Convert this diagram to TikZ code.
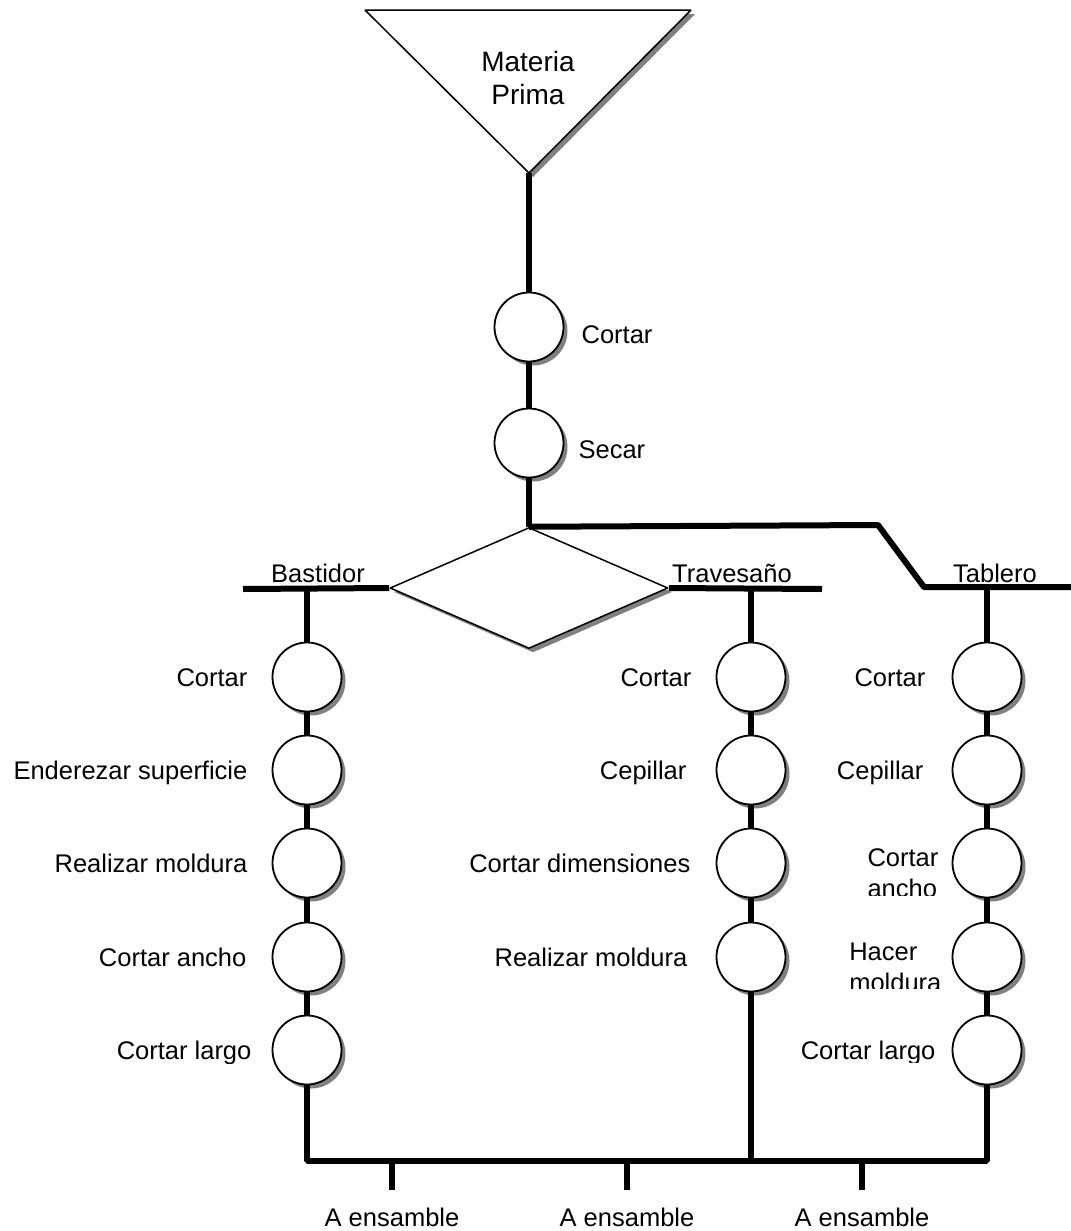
\documentclass[tikz,border=0pt]{standalone}
\usepackage{fontspec}
\setmainfont{Liberation Sans}
\usepackage{tikz}
\usetikzlibrary{shapes.geometric,shadows,positioning}

\tikzset{
  flow/.style={line width=6bp},
  sombra/.style={drop shadow={shadow xshift=4bp,shadow yshift=-4bp,fill=black!50,opacity=1}},
  oper/.style={circle,draw,line width=1.8bp,fill=white,minimum size=69bp,inner sep=0pt,sombra},
  etiq/.style={inner sep=0pt,text height=19bp,text depth=0bp,font=\fontsize{25.5bp}{29bp}\selectfont},
  etiqdos/.style={inner sep=0pt,align=left,font=\fontsize{25.5bp}{31bp}\selectfont},
}

\begin{document}
\begin{tikzpicture}[x=1bp,y=-1bp,line join=bevel]
\useasboundingbox (0,0) rectangle (1071,1231);
% materia prima
\draw [line width=1.5bp,fill=white,sombra] (365,10) -- (691,10) -- (529,173) -- cycle;
\coordinate (mp) at (529,173);
\node [inner sep=0pt,align=center,font=\fontsize{28bp}{33bp}\selectfont] (titulo) at (528,78) {Materia\\Prima};
\node [oper] (cortar) at (529,327) {};
\node [etiq,right=17bp of cortar,yshift=-7bp] (lcortar) {Cortar};
\node [oper] (secar) at (529,443) {};
\node [etiq,right=14bp of secar,yshift=-6bp] (lsecar) {Secar};
\node [diamond,draw,fill=white,line width=1.5bp,minimum width=278bp,minimum height=121bp,inner sep=0pt,sombra] (dec) at (529,588) {};
 \draw [flow] (mp) -- (cortar.north);
 \draw [flow] (cortar.south) -- (secar.north);
 \draw [flow] (secar.south) -- (dec.north);
 \draw [flow] (dec.north) -- (878,525) -- (924,587) -- (1071,587);
% bastidor
\coordinate (bi) at (243,589);
\coordinate (bc) at (307,589);
\node [etiq] (lbast) at (318,573) {Bastidor};
\node [oper] (b1) at (307,677) {};
\node [oper] (b2) at (307,770) {};
\node [oper] (b3) at (307,863) {};
\node [oper] (b4) at (307,957) {};
\node [oper] (b5) at (307,1050) {};
\node [etiq,left=24bp of b1] (lb1) {Cortar};
\node [etiq,left=24bp of b2] (lb2) {Enderezar superficie};
\node [etiq,left=24bp of b3] (lb3) {Realizar moldura};
\node [etiq,left=25bp of b4] (lb4) {Cortar ancho};
\begin{scope}
\clip (80,1020) rectangle (270,1063);
\node [etiq,left=20bp of b5] (lb5) {Cortar largo};
\end{scope}
 \draw [flow] (bi) -- (dec.west);
 \draw [flow] (bc) -- (b1.north);
 \draw [flow] (b1.south) -- (b2.north);
 \draw [flow] (b2.south) -- (b3.north);
 \draw [flow] (b3.south) -- (b4.north);
 \draw [flow] (b4.south) -- (b5.north);
% travesano
\coordinate (tf) at (822,589);
\coordinate (tc) at (751,589);
\node [etiq] (ltrav) at (732,573) {Travesaño};
\node [oper] (t1) at (751,677) {};
\node [oper] (t2) at (751,770) {};
\node [oper] (t3) at (751,863) {};
\node [oper] (t4) at (751,957) {};
\node [etiq,left=24bp of t1] (lt1) {Cortar};
\node [etiq,left=29bp of t2] (lt2) {Cepillar};
\node [etiq,left=25bp of t3] (lt3) {Cortar dimensiones};
\node [etiq,left=28bp of t4] (lt4) {Realizar moldura};
 \draw [flow] (dec.east) -- (tf);
 \draw [flow] (tc) -- (t1.north);
 \draw [flow] (t1.south) -- (t2.north);
 \draw [flow] (t2.south) -- (t3.north);
 \draw [flow] (t3.south) -- (t4.north);
% tablero
\coordinate (pc) at (987,587);
\node [etiq] (ltab) at (995,573) {Tablero};
\node [oper] (p1) at (987,677) {};
\node [oper] (p2) at (987,770) {};
\node [oper] (p3) at (987,863) {};
\node [oper] (p4) at (987,957) {};
\node [oper] (p5) at (987,1050) {};
\node [etiq,left=26bp of p1] (lp1) {Cortar};
\node [etiq,left=28bp of p2] (lp2) {Cepillar};
\begin{scope}
\clip (820,820) rectangle (950,895);
\node [etiqdos,left=13bp of p3,yshift=-10bp] (lp3) {Cortar\\ancho};
\end{scope}
\begin{scope}
\clip (820,915) rectangle (950,988);
\node [etiqdos,left=10bp of p4,yshift=-10bp] (lp4) {Hacer\\moldura};
\end{scope}
\begin{scope}
\clip (760,1020) rectangle (950,1062);
\node [etiq,left=16bp of p5] (lp5) {Cortar largo};
\end{scope}
 \draw [flow] (pc) -- (p1.north);
 \draw [flow] (p1.south) -- (p2.north);
 \draw [flow] (p2.south) -- (p3.north);
 \draw [flow] (p3.south) -- (p4.north);
 \draw [flow] (p4.south) -- (p5.north);
% a ensamble
\coordinate (s1) at (392,1161);
\coordinate (s2) at (627,1161);
\coordinate (s3) at (862,1161);
\coordinate (e1) at (392,1190);
\coordinate (e2) at (627,1190);
\coordinate (e3) at (862,1190);
\node [etiq,below=17bp of e1] (le1) {A ensamble};
\node [etiq,below=17bp of e2] (le2) {A ensamble};
\node [etiq,below=17bp of e3] (le3) {A ensamble};
 \draw [flow] (b5.south) -- (307,1161) -- (987,1161) -- (p5.south);
 \draw [flow] (t4.south) -- (751,1161);
 \draw [flow] (s1) -- (e1);
 \draw [flow] (s2) -- (e2);
 \draw [flow] (s3) -- (e3);
\end{tikzpicture}
\end{document}
